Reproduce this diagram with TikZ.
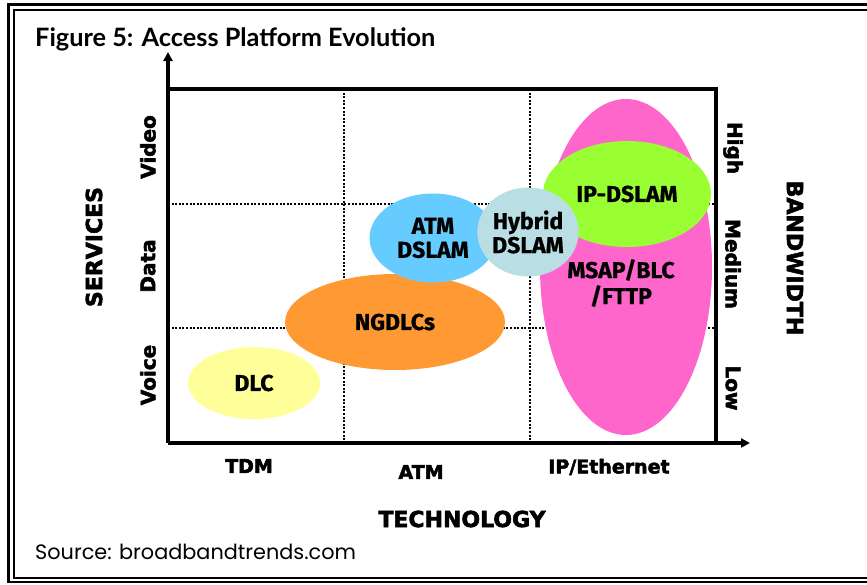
\documentclass[tikz,border=0pt]{standalone}
\usepackage{fontspec}
\usetikzlibrary{shapes.geometric,arrows.meta}
\newfontfamily\heavyfont{DejaVu Sans}[BoldFeatures={FakeBold=2.6}]
\newfontfamily\blobfont{Fira Sans}[BoldFeatures={FakeBold=0.8}]
\newfontfamily\titlefont{Lato}
\newfontfamily\srcfont{Poppins}

\definecolor{dlcyellow}{HTML}{FFFF99}
\definecolor{ngorange}{HTML}{FF9933}
\definecolor{atmblue}{HTML}{66CCFF}
\definecolor{hybridcyan}{HTML}{B9DEE3}
\definecolor{ipgreen}{HTML}{99FF33}
\definecolor{msappink}{HTML}{FF66CC}

\tikzset{
  blob/.style={ellipse, inner sep=0pt, draw=none, align=center,
    font=\blobfont\bfseries\fontsize{23}{25}\selectfont},
  axislabel/.style={inner sep=0pt, font=\heavyfont\bfseries\fontsize{19}{20}\selectfont},
  sidelabel/.style={inner sep=0pt, font=\heavyfont\bfseries\fontsize{20}{20}\selectfont},
  bigaxis/.style={inner sep=0pt, font=\heavyfont\bfseries\fontsize{22}{22}\selectfont},
  gridline/.style={line width=2.4pt, dash pattern=on 2pt off 1.6pt},
  frameline/.style={line width=3.6pt},
  axisline/.style={line width=4pt, -{Triangle[length=9pt,width=9pt]}},
}

\begin{document}
\begin{tikzpicture}[x=1pt,y=-1pt]
\useasboundingbox (0,0) rectangle (867,584);
\clip (0,0) rectangle (867,584);

% page border: double rule, open on the right
\draw[line width=2.6pt] (900,4.5) -- (8.5,4.5) -- (8.5,582) -- (900,582);
\draw[line width=2pt] (900,10) -- (13.5,10) -- (13.5,577.5) -- (900,577.5);

% title and source
\node[anchor=base west, inner sep=0pt, font=\titlefont\bfseries\fontsize{25.3}{28}\selectfont]
  (title) at (35,46) {Figure 5: Access Platform Evolution};
\node[anchor=base west, inner sep=0pt, font=\srcfont\fontsize{20.8}{24}\selectfont]
  (source) at (35,559) {Source: broadbandtrends.com};

% plot corners
\coordinate (O) at (168,443);
\coordinate (ytop) at (168,52);
\coordinate (xend) at (750,443);
\coordinate (TL) at (168,89);
\coordinate (TR) at (716,89);
\coordinate (BR) at (716,443);

% grid
\coordinate (g1t) at (344,89);  \coordinate (g1b) at (344,443);
\coordinate (g2t) at (530,89);  \coordinate (g2b) at (530,443);
\coordinate (h1l) at (168,204); \coordinate (h1r) at (716,204);
\coordinate (h2l) at (168,328); \coordinate (h2r) at (716,328);
\draw[gridline] (g1t) -- (g1b);
\draw[gridline] (g2t) -- (g2b);
\draw[gridline] (h1l) -- (h1r);
\draw[gridline] (h2l) -- (h2r);

% platform regions
\node[blob, fill=dlcyellow, minimum width=132pt, minimum height=72pt] (dlc) at (254,383) {DLC};
\node[blob, fill=ngorange, minimum width=220pt, minimum height=96pt] (ngdlc) at (395,322) {NGDLCs};
\node[blob, fill=atmblue, minimum width=127pt, minimum height=89pt] (atm) at (433,238) {ATM\\[-1pt]DSLAM};
\node[blob, fill=msappink, minimum width=172pt, minimum height=336pt] (msap) at (626,267) {};
\node[blob, fill=ipgreen, minimum width=168pt, minimum height=106pt] (ipdslam) at (627,194) {IP-DSLAM};
\node[blob, fill=hybridcyan, minimum width=85pt, minimum height=89pt] (hybrid) at (528,232) {Hybrid\\[-1pt]DSLAM};
\node[blob, fill=none] (msaptext) at (621,283) {MSAP/BLC\\[1pt]/FTTP};

% frame and axes
\draw[frameline] (TL) -- (TR) -- (BR);
\draw[axisline] (O) -- (ytop);
\draw[axisline] (O) -- (xend);

% technology axis labels
\node[axislabel] (tdm) at (249,466) {TDM};
\node[axislabel] (atmlab) at (421,472) {ATM};
\node[axislabel] (iplab) at (609,467) {IP/Ethernet};
\node[bigaxis] (tech) at (462,519) {TECHNOLOGY};

% services axis labels
\node[sidelabel, rotate=90] (video) at (148,147) {Video};
\node[sidelabel, rotate=90] (data) at (148,266) {Data};
\node[sidelabel, rotate=90] (voice) at (148,375) {Voice};
\node[bigaxis, rotate=90] (services) at (94,247) {SERVICES};

% bandwidth axis labels
\node[sidelabel, rotate=-90] (high) at (733,148) {High};
\node[sidelabel, rotate=-90] (medium) at (733,264) {Medium};
\node[sidelabel, rotate=-90] (low) at (733,388) {Low};
\node[bigaxis, rotate=-90] (bandwidth) at (795,258) {BANDWIDTH};
\end{tikzpicture}
\end{document}
